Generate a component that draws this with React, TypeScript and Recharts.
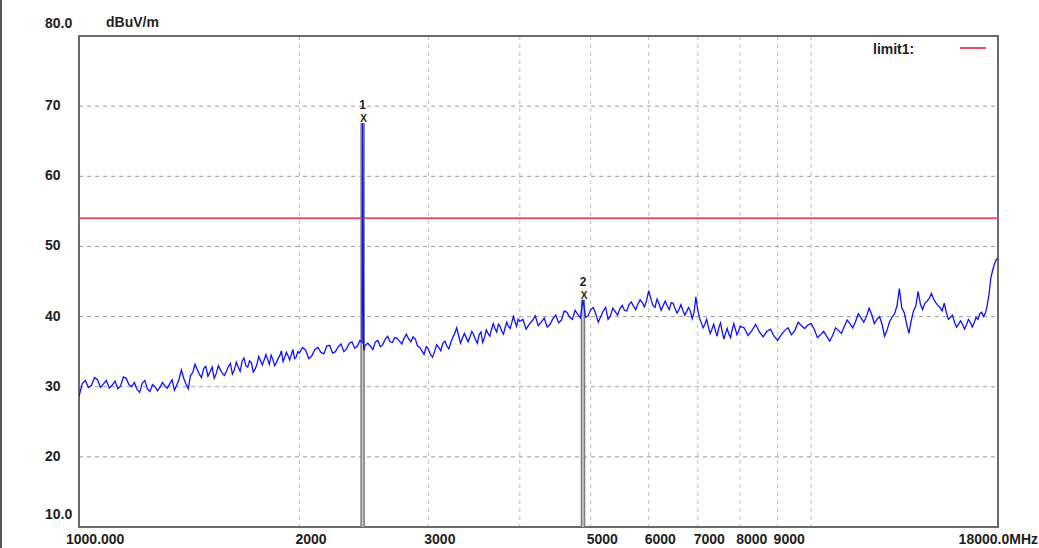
import React from 'react';
import { LineChart, Line, XAxis, YAxis, CartesianGrid, ReferenceLine, ReferenceDot, ReferenceArea } from 'recharts';

// ---- data: frequency (MHz) and level (dBuV/m) ----
const band1Freq = [1000,1010,1020,1030,1040,1050,1060,1070,1080,1090,
  1100,1110,1120,1130,1140,1150,1160,1170,1180,1190,
  1200,1210,1220,1230,1240,1250,1260,1270,1280,1290,
  1300,1310,1320,1330,1340,1350,1360,1370,1380,1390,
  1400,1410,1420,1430,1440,1450,1460,1470,1480,1490,
  1500,1510,1520,1530,1540,1550,1560,1570,1580,1590,
  1600,1610,1620,1630,1640,1650,1660,1670,1680,1690,
  1700,1710,1720,1730,1740,1750,1760,1770,1780,1790,
  1800,1810,1820,1830,1840,1850,1860,1870,1880,1890,
  1900,1910,1920,1930,1940,1950,1960,1970,1980,1990,
  2000];
const band1Level = [28.6,30.4,30.9,29.9,30.2,31.3,31.0,29.9,30.4,30.9,
  29.8,30.2,30.8,29.7,30.1,31.4,31.2,30.3,30.0,30.6,
  29.6,29.2,30.5,30.9,29.7,29.3,30.3,30.0,29.4,29.9,
  30.6,30.1,29.8,30.4,31.0,29.5,30.2,31.1,32.4,31.2,
  30.4,29.7,31.6,32.0,33.2,32.5,31.8,31.3,32.6,32.9,
  31.5,32.1,32.8,31.2,31.9,33.0,32.4,31.9,31.6,32.2,
  32.9,33.3,31.8,32.4,33.5,32.8,32.2,33.6,34.1,33.0,
  32.8,33.7,33.4,32.1,32.5,33.2,34.3,33.7,33.1,33.8,
  34.6,33.9,33.2,34.5,33.9,33.0,33.4,34.0,34.4,35.1,
  33.6,34.2,34.9,34.4,33.8,34.6,35.3,34.0,34.2,35.0,
  34.8];

const band2Freq = [2020,2040,2060,2080,2100,2120,2140,2160,2180,2200,
  2220,2240,2260,2280,2300,2320,2340,2360,2380,2400,
  2420,2436,2440,2444,2448,
  2460,2480,2500,2520,2540,2560,2580,2600,2620,2640,
  2660,2680,2700,2720,2740,2760,2780,2800,2820,2840,
  2860,2880,2900,2920,2940,2960,2980,3000,3020,3040,
  3060,3080,3100,3120,3140,3160,3180,3200,3220,3240,
  3260,3280,3300,3320,3340,3360,3380,3400,3420,3440,
  3460,3480,3500,3520,3540,3560,3580,3600,3620,3640,
  3660,3680,3700,3720,3740,3760,3780,3800,3820,3840,
  3860,3880,3900,3920,3940,3960,3980,4000];
const band2Level = [35.6,35.2,34.0,34.4,35.3,35.6,34.9,34.7,35.8,35.9,
  34.8,35.0,35.7,36.1,35.0,35.4,36.2,36.4,35.5,35.8,
  36.6,36.3,67.6,52.5,35.2,
  35.9,36.2,35.8,35.3,36.4,36.6,35.7,36.0,36.8,37.2,
  36.4,36.3,37.0,36.9,36.5,36.1,36.9,37.5,36.8,36.4,
  37.1,36.8,35.8,35.6,35.1,34.6,35.7,35.4,34.6,34.2,
  35.0,36.0,35.6,35.1,36.2,36.5,35.8,35.4,36.3,37.0,
  37.6,38.4,37.3,36.2,36.9,37.6,37.0,36.4,37.1,37.9,
  37.4,36.7,36.2,37.4,37.8,36.3,37.0,38.1,37.6,37.2,
  38.2,39.0,38.3,37.8,38.9,38.6,37.9,37.5,38.4,39.2,
  38.6,38.3,39.1,40.0,39.3,38.6,39.6,39.3];

const band3Freq = [4040,4080,4120,4160,4200,4240,4280,4320,4360,4400,
  4440,4480,4520,4560,4600,4640,4680,4720,4760,4800,
  4840,4880,4920,4960,5000,5040,5080,5120,5160,5200,
  5240,5280,5320,5360,5400,5440,5480,5520,5560,5600,
  5640,5680,5720,5760,5800,5840,5880,5920,5960,6000,
  6040,6080,6120,6160,6200,6240,6280,6320,6360,6400,
  6440,6480,6520,6560,6600,6640,6680,6720,6760,6800,
  6840,6880,6920,6960,7000,7040,7080,7120,7160,7200,
  7240,7280,7320,7360,7400,7440,7480,7520,7560,7600,
  7640,7680,7720,7760,7800,7840,7880,7920,7960,8000];
const band3Level = [39.6,38.2,38.9,39.4,40.1,38.7,39.2,39.8,38.5,38.9,
  39.7,40.2,39.1,39.5,40.8,40.6,39.9,39.6,40.9,40.3,
  39.8,42.4,39.9,40.1,41.0,41.3,40.4,39.2,40.0,40.8,
  41.3,39.6,40.1,41.2,40.7,40.2,41.1,41.6,40.9,40.8,
  41.7,42.1,41.5,41.0,41.8,42.4,42.0,41.4,42.3,43.7,
  42.6,41.6,41.3,42.5,41.8,40.9,41.6,42.2,41.5,41.0,
  42.0,41.9,41.1,40.5,41.0,41.7,40.9,40.2,40.7,41.3,
  40.8,39.7,40.6,42.8,41.0,39.8,39.1,38.4,38.9,39.6,
  38.5,37.6,38.2,38.9,38.0,37.2,38.4,39.1,37.9,36.8,
  37.6,38.3,37.5,37.0,38.1,39.0,38.2,37.4,37.9,38.6];

const band4Freq = [8100,8200,8300,8400,8500,8600,8700,8800,8900,9000,
  9100,9200,9300,9400,9500,9600,9700,9800,9900,10000,
  10100,10200,10300,10400,10500,10600,10700,10800,10900,11000,
  11100,11200,11300,11400,11500,11600,11700,11800,11900,12000,
  12100,12200,12300,12400,12500,12600,12700,12800,12900,13000,
  13100,13200,13300,13400,13500,13600,13700,13800,13900,14000,
  14100,14200,14300,14400,14500,14600,14700,14800,14900,15000,
  15100,15200,15300,15400,15500,15600,15700,15800,15900,16000,
  16100,16200,16300,16400,16500,16600,16700,16800,16900,17000,
  17100,17200,17300,17400,17500,17600,17700,17800,17900,18000];
const band4Level = [38.4,37.3,38.0,38.9,37.8,37.1,37.9,38.2,37.2,36.6,
  37.4,38.0,38.4,37.4,38.0,39.2,38.7,38.3,38.8,39.0,
  38.2,37.0,37.4,37.9,37.2,36.5,37.3,38.4,38.0,37.6,
  38.6,39.5,39.0,38.4,39.3,40.4,39.8,39.2,40.0,41.2,
  40.3,39.0,39.6,40.0,38.9,37.2,38.1,39.3,39.9,40.4,
  41.5,44.0,41.2,40.6,39.0,37.6,39.4,40.8,41.5,43.6,
  41.8,41.0,41.9,42.2,42.6,43.3,42.5,42.0,41.6,41.3,
  40.8,41.9,40.6,39.6,39.9,40.2,39.2,38.5,38.9,39.4,
  38.9,38.2,38.8,39.6,39.2,38.5,39.1,39.9,39.6,40.4,
  40.6,40.0,40.5,41.6,43.2,45.5,46.6,47.5,48.1,48.3];

const freqMHz = [...band1Freq, ...band2Freq, ...band3Freq, ...band4Freq];
const levelDbuv = [...band1Level, ...band2Level, ...band3Level, ...band4Level];

const xTicks = [1000,2000,3000,4000,5000,6000,7000,8000,9000,10000,18000];
const xTickLabels = ['1000.000','2000','3000','','5000','6000','7000','8000','9000','','18000.0MHz'];
const yTicks = [10,20,30,40,50,60,70,80];
const yTickLabels = ['10.0','20','30','40','50','60','70','80.0'];

const markerFreqs = [2440, 4880];
const markerNames = ['1', '2'];

const limitLevel = 54;
const limitName = 'limit1:';
const unitLabel = 'dBuV/m';

const data = freqMHz.map((f, i) => ({ f, v: levelDbuv[i] }));
const markers = markerFreqs.map((f, i) => ({ f, v: levelDbuv[freqMHz.indexOf(f)], name: markerNames[i] }));

const FONT = '"Liberation Sans", Arial, sans-serif';
const TXT = '#1e1e1e';

const XTick = (props: any) => {
  const { x, payload } = props;
  const i = xTicks.indexOf(payload.value);
  const label = xTickLabels[i];
  if (!label) return <g />;
  const last = i === xTicks.length - 1;
  const first = i === 0;
  return (
    <text x={last ? x + 40 : x + (first ? -13 : -4)} y={539} textAnchor={last ? 'end' : 'start'}
      dominantBaseline="central" fontFamily={FONT} fontWeight={700} fontSize={14} fill={TXT}>
      {label}
    </text>
  );
};

const YTick = (props: any) => {
  const { y, payload } = props;
  const i = yTicks.indexOf(payload.value);
  const edge = i === 0 || i === yTicks.length - 1;
  return (
    <text x={45} y={y + (edge ? -13.5 : -1)} textAnchor="start" dominantBaseline="central"
      fontFamily={FONT} fontWeight={700} fontSize={14} fill={TXT}>
      {yTickLabels[i]}
    </text>
  );
};

const markerShape = (name: string) => (p: any) => (
  <g>
    <text x={p.cx} y={p.cy - 18} textAnchor="middle" dominantBaseline="central" fontFamily={FONT}
      fontWeight={700} fontSize={12} fill={TXT}>{name}</text>
    <text x={p.cx + 1} y={p.cy - 4} textAnchor="middle" dominantBaseline="central" fontFamily={FONT}
      fontWeight={700} fontSize={10} fill={TXT}>X</text>
  </g>
);

export default function App() {
  return (
    <div style={{ position: 'absolute', left: 0, top: 0, width: 1039, height: 548, background: '#fff',
      borderLeft: '2px solid #555', boxSizing: 'border-box' }}>
      <div style={{ position: 'absolute', left: -2, top: 0 }}>
        <LineChart width={1039} height={548} data={data} margin={{ top: 36, right: 41, bottom: 0, left: 0 }}>
          <CartesianGrid stroke="#bdbdbd" strokeDasharray="4 4" horizontal={false} />
          <CartesianGrid stroke="#9a9a9a" strokeDasharray="4 4" vertical={false} />
          <XAxis dataKey="f" type="number" scale="log" domain={[1000, 18000]} ticks={xTicks}
            allowDataOverflow interval={0} height={21} tick={<XTick />} tickLine={false} axisLine={false} />
          <YAxis type="number" domain={[10, 80]} ticks={yTicks} width={79} interval={0}
            tick={<YTick />} tickLine={false} axisLine={false} allowDataOverflow />
          <ReferenceArea x1={1000} x2={18000} y1={10} y2={80} fill="#fff" fillOpacity={0}
            stroke="#6a6a6a" strokeWidth={2} ifOverflow="visible" />
          <ReferenceLine y={limitLevel} stroke="#ee4d63" strokeWidth={2} />
          {markers.map((m) => (
            <ReferenceLine key={'mo' + m.name} segment={[{ x: m.f, y: 10 }, { x: m.f, y: m.v }]}
              stroke="#7a7a7a" strokeWidth={4.5} />
          ))}
          {markers.map((m) => (
            <ReferenceLine key={'mi' + m.name} segment={[{ x: m.f, y: 10 }, { x: m.f, y: m.v }]}
              stroke="#d0d0d0" strokeWidth={1.5} />
          ))}
          <Line type="linear" dataKey="v" stroke="#1010ff" strokeWidth={1.3} dot={false}
            isAnimationActive={false} />
          {markers.map((m) => (
            <ReferenceDot key={'md' + m.name} x={m.f} y={m.v} r={0} shape={markerShape(m.name)} />
          ))}
        </LineChart>
      </div>
      <div style={{ position: 'absolute', left: 104, top: 13, fontFamily: FONT, fontWeight: 700,
        fontSize: 14, color: TXT, lineHeight: '18px' }}>{unitLabel}</div>
      <div style={{ position: 'absolute', left: 871, top: 40, fontFamily: FONT, fontWeight: 700,
        fontSize: 14, color: TXT, lineHeight: '18px' }}>{limitName}</div>
      <div style={{ position: 'absolute', left: 958, top: 47, width: 26, height: 2, background: '#ee4d63' }} />
    </div>
  );
}
